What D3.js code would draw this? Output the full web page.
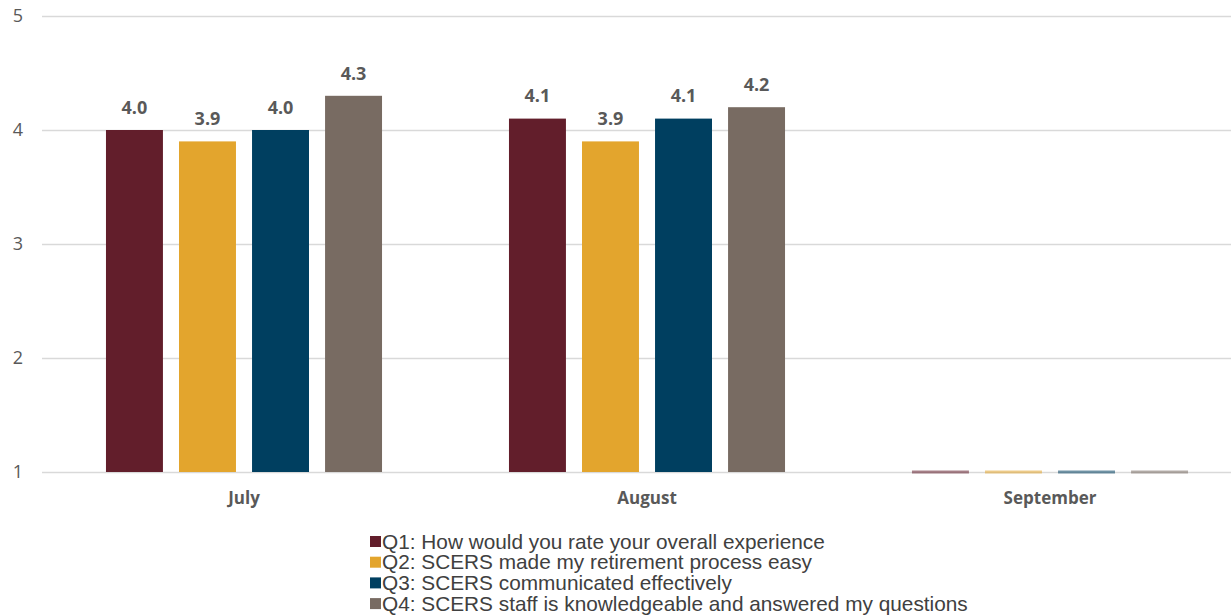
<!DOCTYPE html>
<html>
<head>
<meta charset="utf-8">
<script src="https://cdn.jsdelivr.net/npm/d3@7"></script>
<style>
  body { margin: 0; background: #fff; }
  svg { display: block; }
</style>
</head>
<body>
<svg id="chart"></svg>
<script>
const months = ['July', 'August', 'September'];
const series = [
  'Q1: How would you rate your overall experience',
  'Q2: SCERS made my retirement process easy',
  'Q3: SCERS communicated effectively',
  'Q4: SCERS staff is knowledgeable and answered my questions'
];
const q1 = [4.0, 4.1, 1.0];
const q2 = [3.9, 3.9, 1.0];
const q3 = [4.0, 4.1, 1.0];
const q4 = [4.3, 4.2, 1.0];
const yTicks = [1, 2, 3, 4, 5];

const colors = d3.scaleOrdinal()
  .domain(series)
  .range(['#621e2b', '#e3a52d', '#003f60', '#786b62']);

const width = 1231;
const height = 616;
const values = [q1, q2, q3, q4];

const rows = months.map((m, i) => ({
  month: m,
  bars: series.map((s, j) => ({ series: s, value: values[j][i] }))
}));

const svg = d3.select('#chart')
  .attr('width', width)
  .attr('height', height);

const x0 = d3.scaleBand()
  .domain(months)
  .range([42.5, 1251.5])
  .paddingInner(0.315)
  .paddingOuter(0.1575);

const x1 = d3.scaleBand()
  .domain(series)
  .range([0, x0.bandwidth()])
  .paddingInner(0.22);

const y = d3.scaleLinear()
  .domain([1, 5])
  .range([472, 16]);

// gridlines + y labels
const yAxis = d3.axisLeft(y)
  .tickValues(yTicks)
  .tickSize(-(width - 42))
  .tickFormat(d3.format('d'));

const gy = svg.append('g')
  .attr('class', 'y-axis')
  .attr('transform', 'translate(42, 0)')
  .call(yAxis);
gy.select('.domain').remove();
gy.selectAll('.tick line').attr('stroke', '#d9d9d9').attr('stroke-width', 1.3);
gy.selectAll('.tick text')
  .attr('fill', '#595959')
  .attr('font-family', 'Open Sans, sans-serif')
  .attr('font-size', 18)
  .attr('x', -24)
  .attr('text-anchor', 'middle');

// bars
const groups = svg.selectAll('.group')
  .data(rows)
  .enter()
  .append('g')
  .attr('class', 'group')
  .attr('transform', d => `translate(${x0(d.month)}, 0)`);

groups.selectAll('rect')
  .data(d => d.bars)
  .enter()
  .append('rect')
  .attr('x', d => x1(d.series))
  .attr('width', x1.bandwidth())
  .attr('y', d => Math.min(y(d.value), y(1) - 1.5))
  .attr('height', d => Math.max(y(1) - y(d.value), 3))
  .attr('fill', d => colors(d.series))
  .attr('opacity', d => (d.value > 1 ? 1 : 0.55));

groups.selectAll('.label')
  .data(d => d.bars.filter(b => b.value > 1))
  .enter()
  .append('text')
  .attr('class', 'label')
  .attr('x', d => x1(d.series) + x1.bandwidth() / 2)
  .attr('y', d => y(d.value) - 21)
  .attr('text-anchor', 'middle')
  .attr('dominant-baseline', 'middle')
  .attr('font-family', 'Open Sans, sans-serif')
  .attr('font-weight', 'bold')
  .attr('font-size', 18)
  .attr('fill', '#595959')
  .text(d => d.value.toFixed(1));

// x labels
const xAxis = d3.axisBottom(x0).tickSize(0).tickPadding(20);
const gx = svg.append('g')
  .attr('class', 'x-axis')
  .attr('transform', 'translate(0, 472)')
  .call(xAxis);
gx.select('.domain').remove();
gx.selectAll('.tick text')
  .attr('fill', '#595959')
  .attr('font-family', 'Open Sans, sans-serif')
  .attr('font-weight', 'bold')
  .attr('font-size', 17);

// legend
const legend = svg.append('g')
  .attr('class', 'legend')
  .attr('transform', 'translate(370, 542)');

const item = legend.selectAll('.item')
  .data(series)
  .enter()
  .append('g')
  .attr('class', 'item')
  .attr('transform', (d, i) => `translate(0, ${i * 20.7})`);

item.append('rect')
  .attr('x', 0)
  .attr('y', -6)
  .attr('width', 11)
  .attr('height', 11)
  .attr('fill', d => colors(d));

item.append('text')
  .attr('x', 12)
  .attr('y', 1)
  .attr('dominant-baseline', 'middle')
  .attr('font-family', 'Liberation Sans, Arial, sans-serif')
  .attr('font-size', 20.8)
  .attr('fill', '#404040')
  .text(d => d);
</script>
</body>
</html>
